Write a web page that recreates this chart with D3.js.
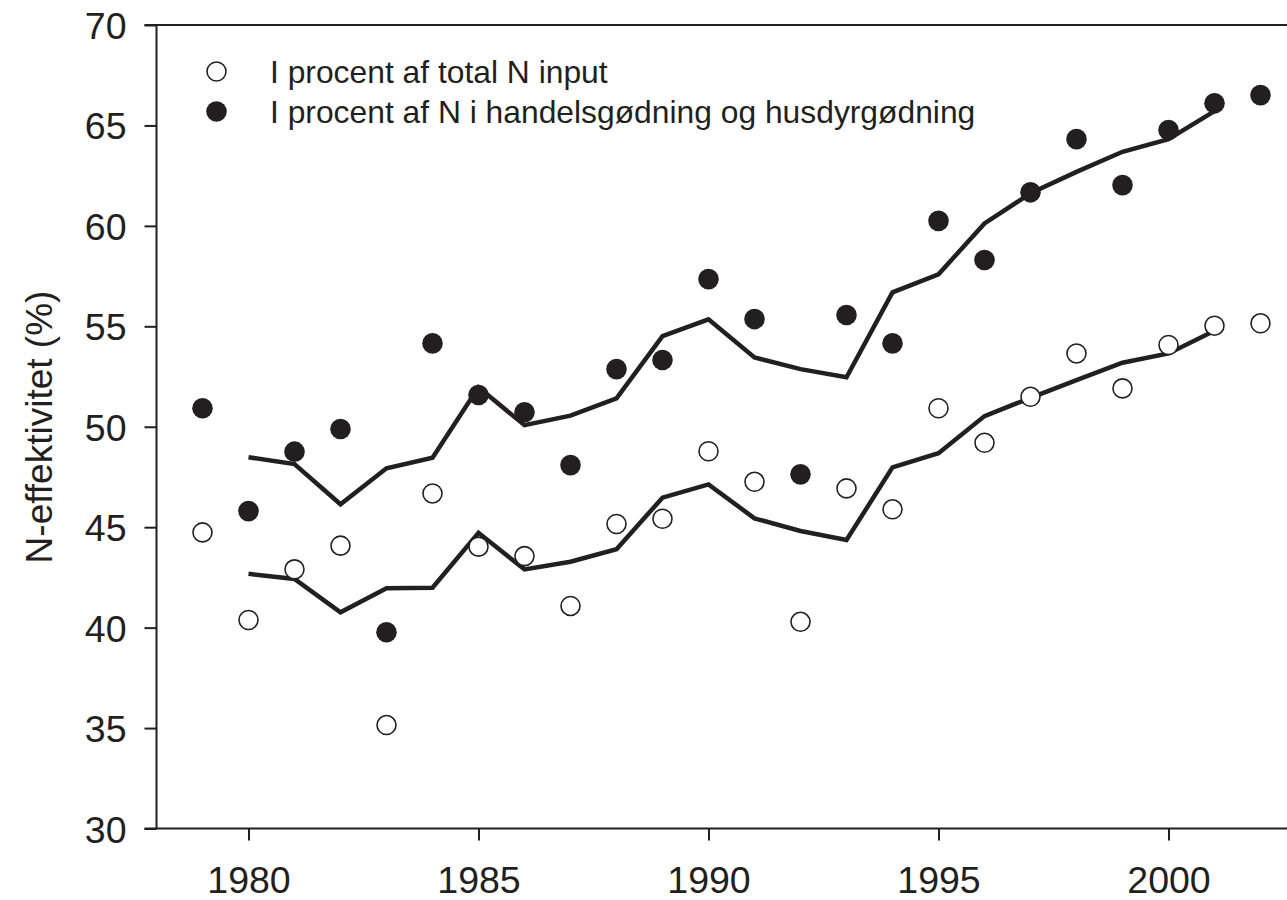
<!DOCTYPE html>
<html><head><meta charset="utf-8">
<script src="https://cdn.jsdelivr.net/npm/d3@7"></script>
<style>body{margin:0;background:#fff}svg{display:block}</style>
</head><body><svg id="c" width="1287" height="900"></svg>
<script>
const years = d3.range(1979, 2003);
const totalInput = [44.74,40.38,42.90,44.08,35.15,46.68,44.03,43.56,41.08,45.16,45.42,48.78,47.26,40.29,46.93,45.89,50.92,49.20,51.49,53.65,51.91,54.07,55.03,55.15];
const fertManure = [50.92,45.80,48.76,49.89,39.77,54.15,51.58,50.72,48.09,52.87,53.32,57.35,55.36,47.63,55.56,54.15,60.25,58.30,61.67,64.32,62.03,64.77,66.10,66.51];
const lineYears = d3.range(1980, 2002);
const totalInputTrend = [42.68,42.42,40.76,41.96,41.99,44.72,42.90,43.28,43.90,46.47,47.13,45.44,44.81,44.36,47.98,48.68,50.53,51.44,52.32,53.19,53.65,54.78];
const fertManureTrend = [48.48,48.14,46.14,47.93,48.46,51.96,50.08,50.55,51.41,54.51,55.35,53.45,52.87,52.46,56.69,57.59,60.12,61.62,62.69,63.69,64.32,65.71];
const yTicks = [30,35,40,45,50,55,60,65,70];
const xTicks = [1980,1985,1990,1995,2000];
const legendLabels = ["I procent af total N input","I procent af N i handelsgødning og husdyrgødning"];
const yTitle = "N-effektivitet (%)";

const svg = d3.select("#c");
const ink = "#231f20";
const font = "Liberation Sans, Arial, sans-serif";
const x = d3.scaleLinear().domain([1978, 2003]).range([156.5, 156.5 + 25*46]);
const y = d3.scaleLinear().domain([30, 70]).range([828.5, 25]);

// axes
const ya = svg.append("g").attr("transform","translate(156.5,0)")
  .call(d3.axisLeft(y).tickValues(yTicks).tickSize(12).tickPadding(18).tickFormat(d3.format("d")));
const xa = svg.append("g").attr("transform","translate(0,828.5)")
  .call(d3.axisBottom(x).tickValues(xTicks).tickSize(12).tickPadding(18).tickFormat(d3.format("d")));
[ya, xa].forEach(g => {
  g.select(".domain").remove();
  g.selectAll(".tick line").attr("stroke", ink).attr("stroke-width", 2);
  g.selectAll(".tick text").attr("fill", ink).attr("font-family", font).attr("font-size", 37.5);
});
xa.selectAll(".tick text").attr("dy", "0.93em");
ya.selectAll(".tick text").attr("dy", "0.36em");
// frame lines (left, bottom, top)
svg.append("line").attr("x1",156.5).attr("x2",156.5).attr("y1",25).attr("y2",828.5).attr("stroke",ink).attr("stroke-width",2);
svg.append("line").attr("x1",144.5).attr("x2",1287).attr("y1",828.5).attr("y2",828.5).attr("stroke",ink).attr("stroke-width",2);
svg.append("line").attr("x1",144.5).attr("x2",1287).attr("y1",25).attr("y2",25).attr("stroke",ink).attr("stroke-width",2);

// y title
svg.append("text").attr("transform","translate(52,427) rotate(-90)")
  .attr("text-anchor","middle").attr("font-family",font).attr("font-size",37).attr("fill",ink).text(yTitle);

// trend lines
const line = d3.line().x((d,i)=>x(lineYears[i])).y(d=>y(d));
[totalInputTrend, fertManureTrend].forEach(s => {
  svg.append("path").datum(s).attr("d", line).attr("fill","none")
    .attr("stroke", ink).attr("stroke-width", 4.5).attr("stroke-linejoin","miter");
});

// points
svg.append("g").selectAll("circle").data(totalInput).join("circle")
  .attr("cx",(d,i)=>x(years[i])).attr("cy",d=>y(d)).attr("r",9.5)
  .attr("fill","#fff").attr("stroke",ink).attr("stroke-width",1.6);
svg.append("g").selectAll("circle").data(fertManure).join("circle")
  .attr("cx",(d,i)=>x(years[i])).attr("cy",d=>y(d)).attr("r",10.3)
  .attr("fill",ink);

// legend
const lg = svg.append("g");
legendLabels.forEach((t,i) => {
  const cy = 71.5 + i*40;
  if (i===0) lg.append("circle").attr("cx",216.5).attr("cy",cy).attr("r",9.5).attr("fill","#fff").attr("stroke",ink).attr("stroke-width",1.6);
  else lg.append("circle").attr("cx",216.5).attr("cy",cy).attr("r",10.3).attr("fill",ink);
  lg.append("text").attr("x",270).attr("y",cy).attr("dy","0.36em").attr("font-family",font)
    .attr("font-size",31.8).attr("fill",ink).text(t);
});
</script></body></html>
